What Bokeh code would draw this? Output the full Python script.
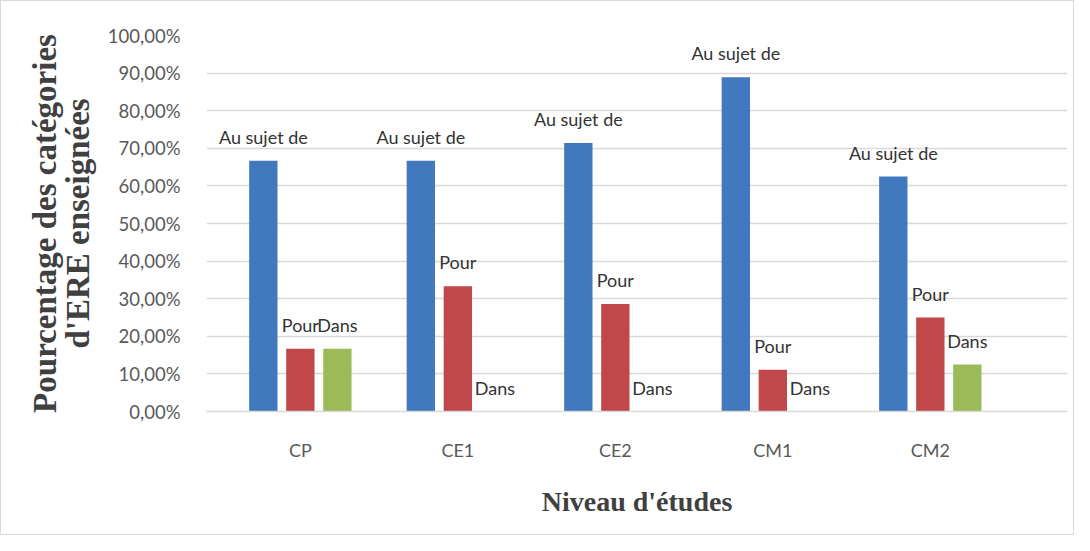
from bokeh.plotting import figure
from bokeh.models import Range1d, FixedTicker, ColumnDataSource, CustomJSTickFormatter, LinearAxis
from bokeh.core.properties import value
from bokeh.embed import file_html
from bokeh.resources import INLINE

categories = ["CP", "CE1", "CE2", "CM1", "CM2"]
series_names = ["Au sujet de", "Pour", "Dans"]
au_sujet_de = [66.67, 66.67, 71.43, 88.89, 62.50]
pour = [16.67, 33.33, 28.57, 11.11, 25.00]
dans = [16.67, 0.0, 0.0, 0.0, 12.50]
colors = ["#4178BE", "#C0474A", "#9BBB59"]
y_ticks = [0, 10, 20, 30, 40, 50, 60, 70, 80, 90, 100]
y_title_lines = ["Pourcentage des catégories", "d'ERE enseignées"]
x_title = "Niveau d'études"

series_values = [au_sujet_de, pour, dans]
offsets = [-0.235, 0.0, 0.235]
bar_w = 0.18

p = figure(width=1074, height=535, output_backend="svg", toolbar_location=None,
           x_range=Range1d(-0.596, 4.871), y_range=Range1d(0, 100),
           min_border_left=205, min_border_right=8, min_border_top=34,
           min_border_bottom=125,
           styles={"border": "1px solid #D9D9D9", "box-sizing": "border-box"})
p.outline_line_color = None
p.background_fill_color = "white"
p.border_fill_color = "white"

for name, vals, off, col in zip(series_names, series_values, offsets, colors):
    xs = [i + off for i in range(len(categories))]
    src = ColumnDataSource(dict(x=xs, top=vals, label=[name] * len(vals)))
    p.vbar(x="x", top="top", width=bar_w, source=src, fill_color=col, line_color=None)
    p.text(x="x", y="top", text="label", source=src, y_offset=-24,
           text_align="center", text_baseline="middle", text_font=value("Lato"),
           text_font_size="18px", text_color="#333333")

# x axis
p.xaxis.ticker = FixedTicker(ticks=list(range(len(categories))))
p.xaxis.major_label_overrides = {i: c for i, c in enumerate(categories)}
p.xaxis.major_tick_line_color = None
p.xaxis.minor_tick_line_color = None
p.xaxis.axis_line_color = "#D9D9D9"
p.xaxis.axis_line_width = 1.5
p.xaxis.major_label_standoff = 21
p.xaxis.major_label_text_font = "Lato"
p.xaxis.major_label_text_font_size = "18px"
p.xaxis.major_label_text_color = "#595959"
p.xaxis.axis_label = x_title
p.xaxis.axis_label_text_font = "Liberation Serif"
p.xaxis.axis_label_text_font_style = "bold"
p.xaxis.axis_label_text_font_size = "28px"
p.xaxis.axis_label_text_color = "#404040"
p.xaxis.axis_label_standoff = 22

# y axis (inner title line)
p.yaxis.ticker = FixedTicker(ticks=y_ticks)
p.yaxis.formatter = CustomJSTickFormatter(code="return tick.toFixed(2).replace('.', ',') + '%';")
p.yaxis.major_tick_line_color = None
p.yaxis.minor_tick_line_color = None
p.yaxis.axis_line_color = None
p.yaxis.major_label_standoff = 20
p.yaxis.major_label_text_font = "Lato"
p.yaxis.major_label_text_font_size = "18.5px"
p.yaxis.major_label_text_color = "#595959"
p.yaxis.axis_label = y_title_lines[1]
p.yaxis.axis_label_text_font = "Liberation Serif"
p.yaxis.axis_label_text_font_style = "bold"
p.yaxis.axis_label_text_font_size = "33px"
p.yaxis.axis_label_text_color = "#404040"
p.yaxis.axis_label_standoff = 9

# outer title line, on an extra label-only axis
outer = LinearAxis(ticker=FixedTicker(ticks=[]), axis_line_color=None,
                   major_tick_line_color=None, minor_tick_line_color=None,
                   major_label_text_font_size="0px", major_tick_out=0, minor_tick_out=0,
                   major_label_standoff=0,
                   axis_label=y_title_lines[0], axis_label_text_font="Liberation Serif",
                   axis_label_text_font_style="bold", axis_label_text_font_size="33px",
                   axis_label_text_color="#404040", axis_label_standoff=-6)
p.add_layout(outer, "left")

p.xgrid.grid_line_color = None
p.ygrid.grid_line_color = "#D9D9D9"
p.ygrid.grid_line_width = 1.5

open("out.html", "w").write(file_html(p, INLINE))
